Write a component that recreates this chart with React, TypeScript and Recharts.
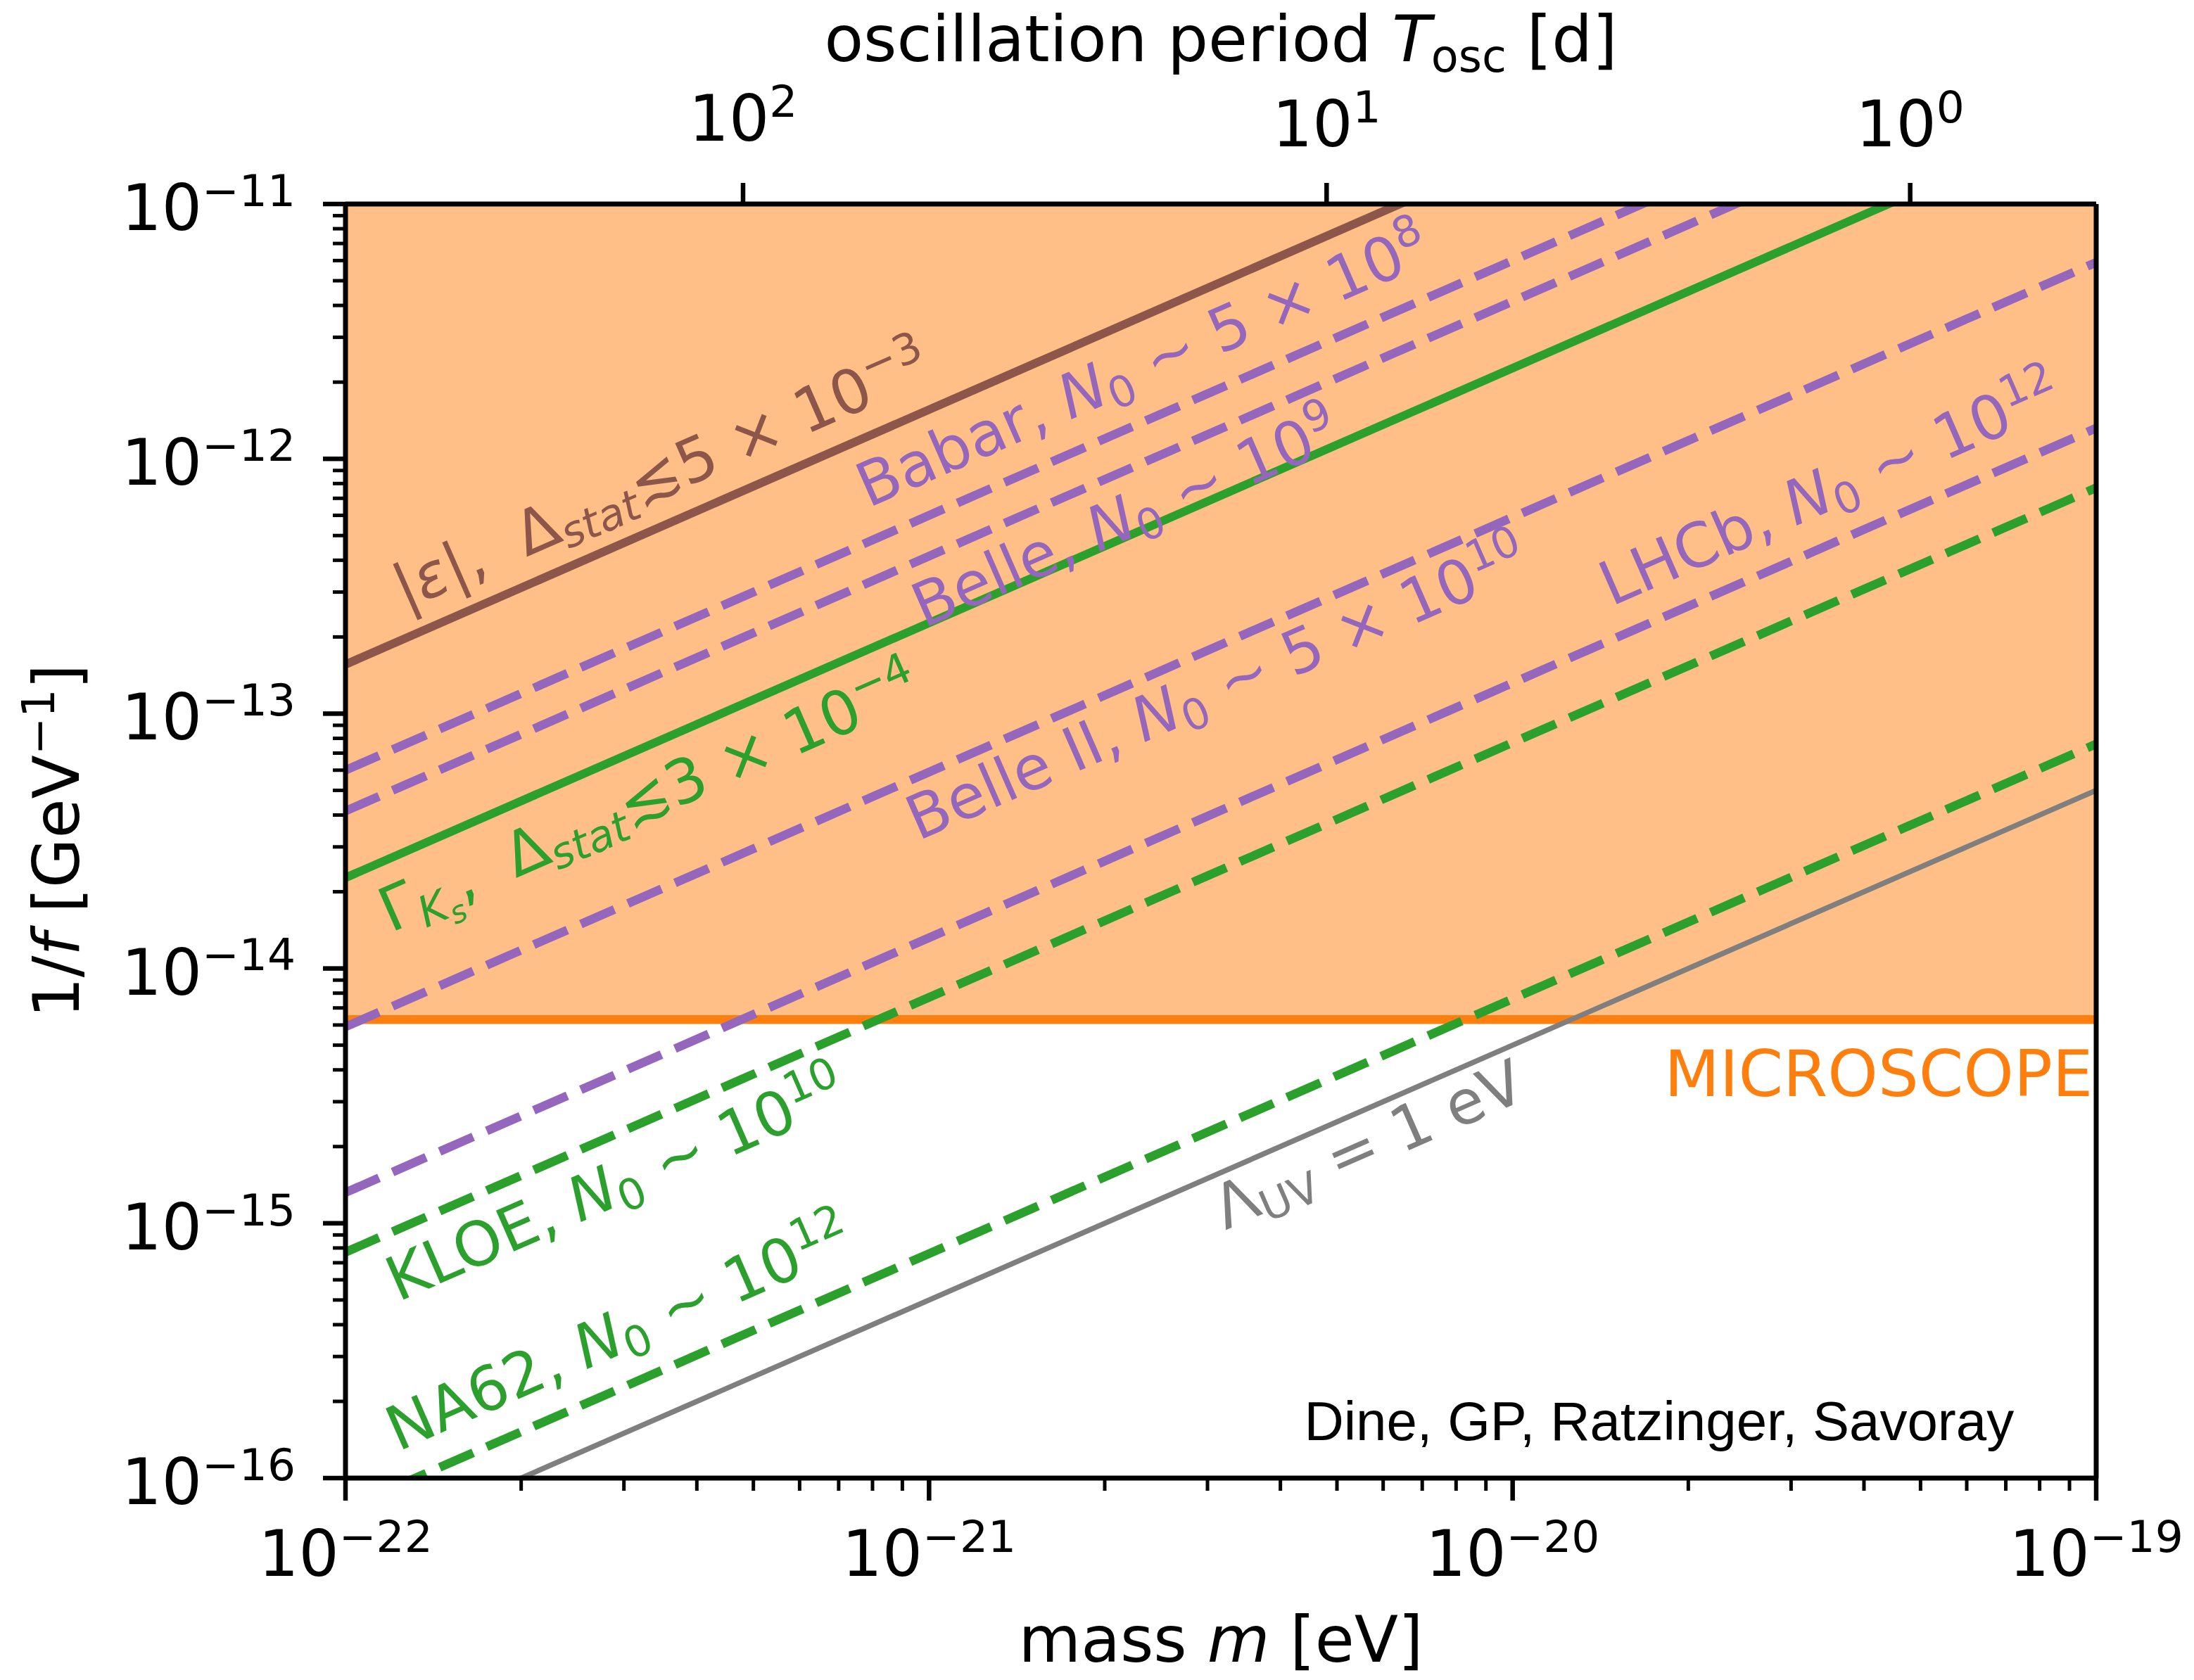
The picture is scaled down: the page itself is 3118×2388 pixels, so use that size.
import React from "react";
import {
  ComposedChart, Line, XAxis, YAxis, ReferenceArea, ReferenceLine, ReferenceDot,
} from "recharts";

// bounds on 1/f, read at the two ends of the mass range
const MASS = [1e-22, 1e-19];
const EPS_K = [1.56e-13, 1.56e-10];
const BABAR = [6.0e-14, 6.0e-11];
const BELLE = [4.15e-14, 4.15e-11];
const GAMMA_KS = [2.27e-14, 2.27e-11];
const BELLE_II = [5.9e-15, 5.9e-12];
const LHCB = [1.32e-15, 1.32e-12];
const KLOE = [7.7e-16, 7.7e-13];
const NA62 = [7.6e-17, 7.6e-14];
const LAMBDA_UV = [5.0e-17, 5.0e-14];
const MICROSCOPE = 6.3e-15;

const X_MAJOR = [1e-22, 1e-21, 1e-20, 1e-19];
const Y_MAJOR = [1e-16, 1e-15, 1e-14, 1e-13, 1e-12, 1e-11];
// masses where T_osc = 100 d, 10 d, 1 d
const TOP_TICKS = [4.8e-22, 4.8e-21, 4.8e-20];
const TOP_EXP = ["2", "1", "0"];

const W = 3118;
const H = 2388;
const PL = 491;
const PR = 2979;
const PT = 290;
const PB = 2101;
const ANGLE = 23.6;
const FONT = "DejaVu Sans";

const COL = {
  brown: "#8c564b",
  purple: "#9467bd",
  green: "#2ca02c",
  gray: "#7f7f7f",
  orange: "#ff7f0e",
  fill: "#ffbf86",
};

type Seg = [string, string?];

function MathText({ x, y, segs, size, fill = "#000", anchor = "start", angle = 0, family = FONT }: {
  x: number; y: number; segs: Seg[]; size: number; fill?: string; anchor?: string; angle?: number; family?: string;
}) {
  let shift = 0;
  const spans = segs.map(([t, kind = "n"], i) => {
    let target = 0;
    let fs = size;
    if (kind === "sub" || kind === "subi") { target = 0.16 * size; fs = size * 0.7; }
    if (kind === "subsubi") { target = 0.3 * size; fs = size * 0.5; }
    if (kind === "sup") { target = -0.38 * size; fs = size * 0.7; }
    const dy = target - shift;
    shift = target;
    const italic = kind === "i" || kind === "subi" || kind === "subsubi";
    return (
      <tspan key={i} dy={dy} fontSize={fs} fontStyle={italic ? "italic" : "normal"}>{t}</tspan>
    );
  });
  return (
    <text x={x} y={y} fill={fill} fontFamily={family} fontSize={size} textAnchor={anchor}
      transform={angle ? `rotate(${-angle} ${x} ${y})` : undefined} style={{ whiteSpace: "pre" }}>
      {spans}
    </text>
  );
}

const SERIES = [
  { key: "eps", color: COL.brown, dash: undefined, width: 12 },
  { key: "babar", color: COL.purple, dash: "52 21", width: 12.5 },
  { key: "belle", color: COL.purple, dash: "52 21", width: 12.5 },
  { key: "gammaKs", color: COL.green, dash: undefined, width: 12 },
  { key: "belle2", color: COL.purple, dash: "52 21", width: 12.5 },
  { key: "lhcb", color: COL.purple, dash: "52 21", width: 12.5 },
  { key: "kloe", color: COL.green, dash: "52 21", width: 12.5 },
  { key: "na62", color: COL.green, dash: "52 21", width: 12.5 },
  { key: "uv", color: COL.gray, dash: undefined, width: 7.5 },
];

const LABELS: { at: [number, number]; color: string; segs: Seg[] }[] = [
  { at: [1.263e-22, 2.55e-13], color: COL.brown,
    segs: [["|"], ["ε", "i"], ["|,  "], ["Δ"], ["stat", "subi"], ["≲5 × 10"], ["−3", "sup"]] },
  { at: [7.87e-22, 6.41e-13], color: COL.purple,
    segs: [["Babar, "], ["N", "i"], ["0", "sub"], [" ∼ 5 × 10"], ["8", "sup"]] },
  { at: [9.8e-22, 2.16e-13], color: COL.purple,
    segs: [["Belle, "], ["N", "i"], ["0", "sub"], [" ∼ 10"], ["9", "sup"]] },
  { at: [1.195e-22, 1.38e-14], color: COL.green,
    segs: [["Γ"], ["K", "subi"], ["s", "subsubi"], [",  "], ["Δ"], ["stat", "subi"], ["≲3 × 10"], ["−4", "sup"]] },
  { at: [9.58e-22, 3.16e-14], color: COL.purple,
    segs: [["Belle II, "], ["N", "i"], ["0", "sub"], [" ∼ 5 × 10"], ["10", "sup"]] },
  { at: [1.476e-20, 2.63e-13], color: COL.purple,
    segs: [["LHCb, "], ["N", "i"], ["0", "sub"], [" ∼ 10"], ["12", "sup"]] },
  { at: [1.231e-22, 4.91e-16], color: COL.green,
    segs: [["KLOE, "], ["N", "i"], ["0", "sub"], [" ∼ 10"], ["10", "sup"]] },
  { at: [1.231e-22, 1.27e-16], color: COL.green,
    segs: [["NA62, "], ["N", "i"], ["0", "sub"], [" ∼ 10"], ["12", "sup"]] },
  { at: [3.22e-21, 9.38e-16], color: COL.gray,
    segs: [["Λ"], ["UV", "sub"], [" = 1 eV"]] },
];

const isMajor = (v: number) => Math.abs(Math.log10(v) - Math.round(Math.log10(v))) < 1e-6;
const expOf = (v: number) => String(Math.round(Math.log10(v))).replace("-", "−");

function withMinors(majors: number[]) {
  const out: number[] = [];
  majors.forEach((m, i) => {
    out.push(m);
    if (i < majors.length - 1) for (let k = 2; k <= 9; k++) out.push(k * m);
  });
  return out;
}

const TICK_SIZE = 90;

function BottomTick({ x, y, payload }: any) {
  const major = isMajor(payload.value);
  return (
    <g>
      <line x1={x} x2={x} y1={y} y2={y + (major ? 32 : 18)} stroke="#000" strokeWidth={major ? 6.5 : 5} />
      {major && (
        <MathText x={x} y={y + 139} size={TICK_SIZE} anchor="middle" segs={[["10"], [expOf(payload.value), "sup"]]} />
      )}
    </g>
  );
}

function LeftTick({ x, y, payload }: any) {
  const major = isMajor(payload.value);
  return (
    <g>
      <line x1={x} x2={x - (major ? 32 : 18)} y1={y} y2={y} stroke="#000" strokeWidth={major ? 6.5 : 5} />
      {major && (
        <MathText x={x - 71} y={y + 37} size={TICK_SIZE} anchor="end" segs={[["10"], [expOf(payload.value), "sup"]]} />
      )}
    </g>
  );
}

function TopTick({ x, y, payload }: any) {
  const idx = TOP_TICKS.indexOf(payload.value);
  const exp = TOP_EXP[idx] ?? "";
  return (
    <g>
      <line x1={x} x2={x} y1={y} y2={y - 30} stroke="#000" strokeWidth={6.5} />
      <MathText x={x} y={y - (exp === "2" ? 90 : 82)} size={TICK_SIZE} anchor="middle" segs={[["10"], [exp, "sup"]]} />
    </g>
  );
}

function BottomTitle() {
  return <MathText x={(PL + PR) / 2} y={2362} size={91} anchor="middle" segs={[["mass "], ["m", "i"], [" [eV]"]]} />;
}

function TopTitle() {
  return (
    <MathText x={(PL + PR) / 2} y={87} size={91} anchor="middle"
      segs={[["oscillation period "], ["T", "i"], ["osc", "sub"], [" [d]"]]} />
  );
}

function LeftTitle() {
  return (
    <MathText x={112} y={(PT + PB) / 2} size={91} anchor="middle" angle={90}
      segs={[["1/"], ["f", "i"], [" [GeV"], ["−1", "sup"], ["]"]]} />
  );
}

export default function App() {
  const rows = MASS.map((m, i) => ({
    m,
    eps: EPS_K[i],
    babar: BABAR[i],
    belle: BELLE[i],
    gammaKs: GAMMA_KS[i],
    belle2: BELLE_II[i],
    lhcb: LHCB[i],
    kloe: KLOE[i],
    na62: NA62[i],
    uv: LAMBDA_UV[i],
  }));
  const spine = { stroke: "#000", strokeWidth: 7 };

  return (
    <div style={{ width: W, height: H }}>
      <style>{"body{margin:0}"}</style>
      <ComposedChart width={W} height={H} data={rows} margin={{ top: 0, right: W - PR - 1, bottom: 0, left: 0 }}>
        <XAxis dataKey="m" type="number" scale="log" domain={[1e-22, 1e-19]} allowDataOverflow
          ticks={withMinors(X_MAJOR)} interval={0} tickSize={0} tickMargin={0} tickLine={false}
          tick={<BottomTick />} axisLine={spine} height={H - PB} label={<BottomTitle />} />
        <XAxis xAxisId="top" dataKey="m" orientation="top" type="number" scale="log" domain={[1e-22, 1e-19]}
          allowDataOverflow ticks={TOP_TICKS} interval={0} tickSize={0} tickMargin={0} tickLine={false}
          tick={<TopTick />} axisLine={spine} height={PT} label={<TopTitle />} />
        <YAxis type="number" scale="log" domain={[1e-16, 1e-11]} allowDataOverflow
          ticks={withMinors(Y_MAJOR)} interval={0} tickSize={0} tickMargin={0} tickLine={false}
          tick={<LeftTick />} axisLine={spine} width={PL} label={<LeftTitle />} />
        <YAxis yAxisId="right" orientation="right" type="number" scale="log" domain={[1e-16, 1e-11]}
          allowDataOverflow tick={false} tickLine={false} axisLine={spine} width={1} />

        <ReferenceArea x1={1e-22} x2={1e-19} y1={MICROSCOPE} y2={1e-11} fill={COL.fill} fillOpacity={1}
          stroke="none" ifOverflow="visible" />
        <ReferenceLine y={MICROSCOPE} stroke={COL.orange} strokeWidth={12.5} />

        {SERIES.map((s) => (
          <Line key={s.key} dataKey={s.key} type="linear" stroke={s.color} strokeWidth={s.width}
            strokeDasharray={s.dash} dot={false} activeDot={false} isAnimationActive={false} />
        ))}

        {LABELS.map((l, i) => (
          <ReferenceDot key={i} x={l.at[0]} y={l.at[1]} r={0}
            shape={(p: any) => <MathText x={p.cx} y={p.cy} size={87} fill={l.color} angle={ANGLE} segs={l.segs} />} />
        ))}
        <ReferenceDot x={9.87e-20} y={3.16e-15} r={0}
          shape={(p: any) => <MathText x={p.cx} y={p.cy} size={91} fill={COL.orange} anchor="end" segs={[["MICROSCOPE"]]} />} />
        <ReferenceDot x={7.23e-20} y={1.41e-16} r={0}
          shape={(p: any) => (
            <MathText x={p.cx} y={p.cy} size={78} anchor="end" family="Liberation Sans"
              segs={[["Dine, GP, Ratzinger, Savoray"]]} />
          )} />
      </ComposedChart>
    </div>
  );
}
